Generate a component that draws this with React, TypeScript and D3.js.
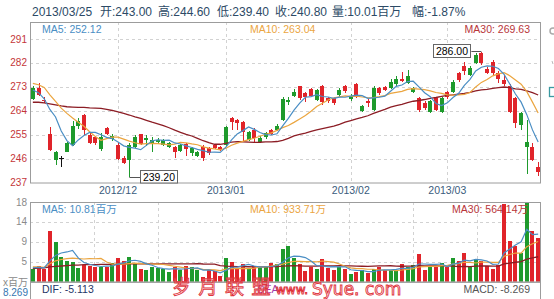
import React from "react";
import * as d3 from "d3";

// ---- data ----
const opens = [268.3, 272.5, 268.1, 255.3, 245.5, 246.1, 248.6, 251.1, 258.3, 262.4, 254.9, 254.2, 249.5, 257.4, 253.3, 251.1, 246.3, 245.5, 250.5, 255.1, 253.0, 251.5, 252.1, 251.1, 250.4, 250.3, 249.0, 251.5, 248.2, 247.0, 250.5, 250.1, 251.1, 250.3, 251.1, 261.2, 260.5, 259.9, 253.0, 256.8, 252.4, 254.0, 256.8, 256.8, 260.5, 267.4, 269.6, 273.3, 270.6, 272.1, 268.1, 273.3, 268.7, 268.7, 269.9, 273.3, 268.3, 274.0, 264.0, 267.8, 264.3, 272.5, 273.1, 272.5, 274.1, 275.9, 274.6, 271.2, 268.7, 267.0, 263.7, 268.7, 263.7, 271.0, 271.2, 278.1, 280.9, 277.5, 281.9, 285.6, 279.6, 282.3, 278.3, 275.6, 273.3, 268.7, 258.6, 250.3, 250.5, 243.0];
const highs = [273.2, 274.4, 269.3, 258.0, 249.0, 247.0, 252.2, 260.0, 261.3, 262.8, 255.9, 254.5, 255.5, 257.8, 255.3, 251.8, 246.8, 251.8, 255.0, 255.3, 255.0, 254.0, 253.6, 253.5, 252.3, 250.6, 251.5, 252.0, 250.3, 248.8, 251.0, 250.5, 251.5, 250.8, 258.3, 261.8, 260.8, 260.2, 256.5, 257.5, 254.5, 256.0, 257.2, 259.0, 269.0, 269.3, 272.0, 273.5, 271.0, 272.5, 272.3, 273.6, 269.3, 269.2, 272.4, 273.8, 270.2, 274.3, 266.3, 268.3, 273.5, 273.0, 273.5, 275.8, 277.0, 278.7, 279.4, 273.0, 269.3, 267.5, 268.2, 269.3, 269.3, 271.5, 275.4, 278.6, 282.5, 281.0, 285.6, 286.0, 280.5, 283.0, 279.0, 277.5, 274.0, 269.0, 263.5, 260.5, 251.8, 244.6];
const lows = [268.0, 269.5, 266.8, 249.0, 243.6, 243.0, 248.3, 250.8, 257.0, 255.0, 251.5, 251.3, 249.0, 254.8, 252.5, 245.3, 244.0, 239.2, 250.0, 251.0, 250.8, 248.6, 251.5, 250.7, 250.0, 246.1, 248.5, 247.0, 247.0, 246.5, 245.0, 247.5, 249.5, 248.8, 250.8, 256.8, 256.8, 252.7, 252.7, 252.4, 252.0, 253.5, 254.8, 256.5, 260.0, 266.2, 269.0, 268.0, 267.4, 269.0, 267.8, 266.2, 267.0, 266.3, 269.0, 270.6, 267.8, 268.7, 263.5, 265.5, 264.0, 270.0, 271.3, 272.0, 273.5, 274.8, 274.0, 270.8, 263.7, 264.3, 263.3, 263.8, 263.0, 268.5, 270.5, 275.0, 277.5, 277.0, 281.5, 281.2, 277.8, 277.5, 274.3, 273.5, 263.0, 257.4, 256.8, 240.2, 245.0, 239.4];
const closes = [272.5, 269.9, 268.0, 249.3, 248.6, 246.1, 251.8, 258.3, 260.3, 256.8, 252.0, 251.8, 254.0, 255.3, 254.5, 245.7, 244.5, 251.0, 254.0, 251.5, 253.9, 253.0, 253.0, 253.0, 251.8, 248.6, 251.0, 249.6, 249.8, 248.3, 246.2, 248.0, 249.9, 249.3, 258.0, 259.9, 259.3, 256.1, 256.1, 253.6, 253.9, 255.5, 255.3, 258.4, 268.3, 268.1, 271.0, 268.7, 269.3, 269.6, 271.8, 267.4, 267.8, 266.8, 271.8, 271.6, 269.6, 269.6, 265.8, 266.8, 272.6, 270.6, 271.8, 274.9, 275.9, 275.2, 277.1, 272.5, 264.3, 264.9, 267.7, 264.3, 268.7, 269.3, 274.9, 275.6, 279.1, 280.2, 285.0, 281.9, 278.3, 278.3, 275.9, 274.1, 263.7, 259.5, 263.0, 252.4, 245.4, 240.8];
// volume, 百万
const volumes = [2.86, 3.62, 2.86, 11.68, 9.15, 5.6, 4.85, 4.6, 3.08, 3.85, 3.62, 3.46, 3.46, 3.46, 4.23, 5.54, 4.85, 5.77, 4.23, 2.86, 2.7, 3.3, 3.2, 2.86, 2.3, 3.46, 2.62, 3.62, 3.46, 2.7, 1.0, 2.7, 2.46, 1.3, 5.54, 4.6, 2.86, 4.08, 2.86, 3.62, 3.3, 3.3, 4.38, 4.0, 7.46, 8.2, 5.4, 4.08, 2.54, 3.46, 2.86, 5.15, 3.08, 2.7, 3.3, 2.86, 1.77, 2.3, 2.62, 1.93, 2.86, 3.46, 2.62, 2.62, 2.62, 4.0, 3.46, 3.85, 6.38, 2.62, 3.62, 3.46, 4.23, 3.46, 5.4, 4.85, 6.7, 3.46, 5.1, 4.85, 3.62, 2.86, 3.85, 17.8, 9.45, 8.2, 6.5, 18.3, 11.6, 10.01];

// moving-average values before a full window is available
const ma5Head = [271.8, 270.8, 268.5, 264.5];
const ma10Head = [274.3, 273.8, 272.8, 270.0, 267.5, 265.0, 263.0, 261.3, 259.7];
const ma30Head = [267.2, 267.2, 267.0, 266.6, 266.2, 265.8, 265.5, 265.4, 265.3, 265.3, 265.1, 265.0, 264.9, 264.5, 264.1, 263.6, 263.0, 262.4, 261.7, 261.1, 260.4, 259.7, 259.1, 258.4, 257.6, 256.7, 255.9, 255.1, 254.5];
const volMa5Head = [3.2, 3.3, 3.2, 4.8];
const volMa10Head = [3.4, 3.4, 3.3, 4.1, 4.8, 5.1, 5.3, 5.4, 5.3];
const volMa30Head = [3.0, 3.1, 3.2, 3.4, 3.5, 3.6, 3.7, 3.8, 3.8, 3.9, 3.9, 3.9, 4.0, 4.0, 4.0, 4.0, 4.1, 4.1, 4.1, 4.1, 4.1, 4.1, 4.1, 4.1, 4.1, 4.1, 4.1, 4.1, 4.1];

const priceTicks = [237, 246, 255, 264, 273, 282, 291];
const priceDomain = [237, 297.4];
const volTickFractions = [1, 0.75, 0.5, 0.25];
const monthLabels = ["2012/12", "2013/01", "2013/02", "2013/03"];
const monthStartIdx = [15, 34, 56, 73];
const lastDate = "2013/03/25";
const priceMaLegend = ["MA5: 252.12", "MA10: 263.04", "MA30: 269.63"];
const volMaLegend = ["MA5: 10.81百万", "MA10: 933.71万", "MA30: 564.14万"];
const macdLegend = ["DIF: -5.113", "DEA:", "MACD: -8.269"];
const macdAxisLabel = "8.269";

// ---- layout / style ----
const W = 554, H = 299;
const L = 30, R = 541;
const P_TOP = 22, P_BOT = 182.5;
const V_TOP = 202, V_BOT = 281.7;
const UP = "#1e9a2c", DOWN = "#e0242a", DOJI = "#111";
const C5 = "#4a8ec4", C10 = "#eba53f", C30 = "#8c1d25";
const FONT = "'Liberation Sans', Arial, 'Noto Sans CJK SC', sans-serif";
const GRID = "#d2d2d2", BORDER = "#9c9c9c";

const N = closes.length;
function movingAvg(vals: number[], n: number, head: number[]) {
  return vals.map((_, i) => (i < n - 1 ? head[i] : (d3.mean(vals.slice(i - n + 1, i + 1)) as number)));
}

export default function App() {
  const x = d3.scaleBand<number>().domain(d3.range(N)).range([L, R]).paddingInner(0.3).paddingOuter(0.15);
  const cx = (i: number) => (x(i) as number) + x.bandwidth() / 2;
  const y = d3.scaleLinear().domain(priceDomain).range([P_BOT, P_TOP]);
  const vMax = d3.max(volumes) as number;
  const vy = d3.scaleLinear().domain([0, vMax]).range([V_BOT, V_TOP]);

  const ma5 = movingAvg(closes, 5, ma5Head);
  const ma10 = movingAvg(closes, 10, ma10Head);
  const ma30 = movingAvg(closes, 30, ma30Head);
  const vma5 = movingAvg(volumes, 5, volMa5Head);
  const vma10 = movingAvg(volumes, 10, volMa10Head);
  const vma30 = movingAvg(volumes, 30, volMa30Head);

  const pLine = d3.line<number>().x((_, i) => cx(i)).y((d) => y(d));
  const vLine = d3.line<number>().x((_, i) => cx(i)).y((d) => vy(d));

  const hiIdx = d3.maxIndex(highs);
  const loIdx = d3.minIndex(lows);
  const last = N - 1;
  const chg = ((closes[last] / closes[last - 1] - 1) * 100).toFixed(2);
  const header = [
    lastDate,
    "开:" + opens[last].toFixed(2),
    "高:" + highs[last].toFixed(2),
    "低:" + lows[last].toFixed(2),
    "收:" + closes[last].toFixed(2),
    "量:" + volumes[last].toFixed(2) + "百万",
    "幅:" + chg + "%",
  ];
  const headerX = [32, 100, 158, 217, 275, 332, 412];

  const candleColor = (i: number) => (closes[i] > opens[i] ? UP : closes[i] < opens[i] ? DOWN : DOJI);
  const volColor = (i: number) => (closes[i] >= opens[i] ? UP : DOWN);
  const bx = (i: number) => Math.round(cx(i) - 2);

  const fmt0 = d3.format(".0f");

  return (
    <svg width={W} height={H} style={{ position: "absolute", left: 0, top: 0, background: "#fff" }} fontFamily={FONT}>
      <defs>
        <clipPath id="pclip"><rect x={L} y={P_TOP} width={R - L} height={P_BOT - P_TOP} /></clipPath>
        <clipPath id="vclip"><rect x={L} y={V_TOP} width={R - L} height={V_BOT - V_TOP} /></clipPath>
      </defs>

      {/* header */}
      {header.map((t, k) => (
        <text key={k} x={headerX[k]} y={16} fontSize={12} fill="#2c4a66">{t}</text>
      ))}

      {/* ---------- price panel ---------- */}
      {priceTicks.filter((t) => t !== priceDomain[0]).map((t) => (
        <line key={t} x1={L} x2={R} y1={Math.round(y(t)) + 0.5} y2={Math.round(y(t)) + 0.5} stroke={GRID} strokeDasharray="3,3" />
      ))}
      {monthStartIdx.map((m) => (
        <line key={m} x1={Math.round(cx(m)) + 0.5} x2={Math.round(cx(m)) + 0.5} y1={P_TOP} y2={P_BOT} stroke={GRID} strokeDasharray="3,3" />
      ))}
      <rect x={L + 0.5} y={P_TOP + 0.5} width={R - L - 1} height={P_BOT - P_TOP} fill="none" stroke={BORDER} />
      {priceTicks.map((t) => (
        <text key={t} x={27} y={y(t)} dy="0.35em" textAnchor="end" fontSize={10} fill="#c4363a">{t}</text>
      ))}
      {monthStartIdx.map((m, k) => (
        <text key={m} x={cx(m)} y={194} textAnchor="middle" fontSize={10.5} fill="#3a5c7c">{monthLabels[k]}</text>
      ))}

      <g clipPath="url(#pclip)">
        {closes.map((c, i) => {
          const col = candleColor(i);
          const top = y(Math.max(opens[i], c));
          const bot = y(Math.min(opens[i], c));
          const b = bx(i);
          return (
            <g key={i}>
              <line x1={b + 2} x2={b + 2} y1={y(highs[i])} y2={y(lows[i])} stroke={col} strokeWidth={1} shapeRendering="crispEdges" />
              {col === DOJI ? (
                <line x1={b - 0.5} x2={b + 4.5} y1={top} y2={top} stroke={col} strokeWidth={1} shapeRendering="crispEdges" />
              ) : (
                <rect x={b} y={top} width={4} height={Math.max(1, bot - top)} fill={col} shapeRendering="crispEdges" />
              )}
            </g>
          );
        })}
        <path d={pLine(ma30) || ""} fill="none" stroke={C30} strokeWidth={1.3} />
        <path d={pLine(ma10) || ""} fill="none" stroke={C10} strokeWidth={1.2} />
        <path d={pLine(ma5) || ""} fill="none" stroke={C5} strokeWidth={1.2} />
      </g>

      {/* high / low annotations */}
      {(() => {
        const hx = cx(hiIdx), hy = y(highs[hiIdx]);
        const lx = cx(loIdx), ly = y(lows[loIdx]);
        return (
          <g fontSize={10.5} fill="#000">
            <line x1={hx - 10} x2={hx} y1={Math.round(hy) - 0.5} y2={Math.round(hy) - 0.5} stroke="#555" />
            <rect x={Math.round(hx) - 47.5} y={Math.round(hy) - 7.5} width={37} height={13} fill="#fff" stroke="#666" />
            <text x={Math.round(hx) - 29} y={Math.round(hy) - 1} dy="0.35em" textAnchor="middle">{highs[hiIdx].toFixed(2)}</text>
            <line x1={lx} x2={lx + 11} y1={Math.round(ly) + 0.5} y2={Math.round(ly) + 0.5} stroke="#555" />
            <rect x={Math.round(lx) + 11.5} y={Math.round(ly) - 6.5} width={37} height={12.5} fill="#fff" stroke="#666" />
            <text x={Math.round(lx) + 30} y={Math.round(ly)} dy="0.35em" textAnchor="middle">{lows[loIdx].toFixed(2)}</text>
          </g>
        );
      })()}

      {/* price MA legend */}
      <text x={42} y={33} fontSize={10.5} fill={C5}>{priceMaLegend[0]}</text>
      <text x={250} y={33} fontSize={10.5} fill={C10}>{priceMaLegend[1]}</text>
      <text x={530} y={33} fontSize={10.5} fill="#b8363a" textAnchor="end">{priceMaLegend[2]}</text>

      {/* ---------- volume panel ---------- */}
      {volTickFractions.slice(1).map((f) => (
        <line key={f} x1={L} x2={R} y1={Math.round(vy(vMax * f)) + 0.5} y2={Math.round(vy(vMax * f)) + 0.5} stroke={GRID} strokeDasharray="3,3" />
      ))}
      {d3.range(1, 8).map((k) => (
        <line key={k} x1={Math.round(L + (k * (R - L)) / 8) + 0.5} x2={Math.round(L + (k * (R - L)) / 8) + 0.5} y1={V_TOP} y2={V_BOT} stroke={GRID} strokeDasharray="3,3" />
      ))}
      <g clipPath="url(#vclip)">
        {volumes.map((v, i) => (
          <rect key={i} x={bx(i)} y={vy(v)} width={4} height={V_BOT - vy(v)} fill={volColor(i)} shapeRendering="crispEdges" />
        ))}
        <path d={vLine(vma30) || ""} fill="none" stroke={C30} strokeWidth={1.3} />
        <path d={vLine(vma10) || ""} fill="none" stroke={C10} strokeWidth={1.2} />
        <path d={vLine(vma5) || ""} fill="none" stroke={C5} strokeWidth={1.2} />
      </g>
      <rect x={L + 0.5} y={V_TOP + 0.5} width={R - L - 1} height={V_BOT - V_TOP} fill="none" stroke={BORDER} />
      {volTickFractions.map((f) => (
        <text key={f} x={27} y={vy(vMax * f)} dy="0.35em" textAnchor="end" fontSize={10} fill="#8a8a8a">{fmt0(vMax * f)}</text>
      ))}
      <text x={28} y={286} textAnchor="end" fontSize={10} fill="#8a8a8a">x百万</text>
      <text x={42} y={213} fontSize={10.5} fill={C5}>{volMaLegend[0]}</text>
      <text x={250} y={213} fontSize={10.5} fill={C10}>{volMaLegend[1]}</text>
      <text x={528} y={213} fontSize={10.5} fill="#b8363a" textAnchor="end">{volMaLegend[2]}</text>

      {/* ---------- MACD panel (top strip) ---------- */}
      <rect x={L + 0.5} y={V_BOT + 0.5} width={R - L - 1} height={60} fill="none" stroke={BORDER} />
      <text x={28} y={296} textAnchor="end" fontSize={10} fill="#3576b0">{macdAxisLabel}</text>
      <text x={42} y={293} fontSize={10.5} fill="#1f3566">{macdLegend[0]}</text>
      <text x={257} y={293} fontSize={10.5} fill="#a43aa8">{macdLegend[1]}</text>
      <text x={530} y={293} fontSize={10.5} fill="#555" textAnchor="end">{macdLegend[2]}</text>

      {/* watermark */}
      <g fill="rgba(255,255,255,0.35)" stroke="#e0343c" strokeWidth={0.9}>
        <text x={172} y={294} fontSize={19} letterSpacing={7.5} fontFamily="'Noto Sans CJK SC', sans-serif">岁月联盟</text>
        <text x={276} y={294} fontSize={12} fontFamily="'DejaVu Sans', sans-serif">www.</text>
        <text x={312} y={295} fontSize={17} fontFamily="'DejaVu Sans', sans-serif">Syue. com</text>
      </g>

      {/* cut-off UI widgets at the right edge */}
      <circle cx={553} cy={31} r={3} fill="none" stroke="#aaa" strokeWidth={1.5} />
      <line x1={552} x2={553} y1={61} y2={64} stroke="#bbb" />
      <rect x={549.5} y={87.5} width={8} height={9} fill="none" stroke="#3a9aa2" strokeWidth={1.3} />
    </svg>
  );
}
